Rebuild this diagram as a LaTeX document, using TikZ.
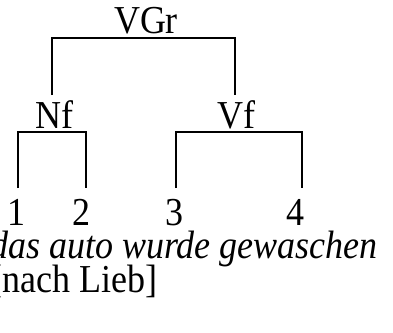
\documentclass[tikz,border=0pt]{standalone}
\usepackage{fontspec}
\setmainfont{Liberation Serif}
\newcommand{\vstretch}[1]{\scalebox{1}[1.1]{#1}}
\begin{document}
\begin{tikzpicture}[x=1pt,y=-1pt,
  lbl/.style={inner sep=0pt,anchor=base,font=\fontsize{36}{38}\selectfont},
  br/.style={line width=2pt}]
\useasboundingbox (0,0) rectangle (393,332);
\clip (0,0) rectangle (393,332);
\node[lbl] (vgr) at (146,33) {\vstretch{VGr}};
\node[lbl] (nf) at (54.5,128) {\vstretch{Nf}};
\node[lbl] (vf) at (236,128) {\vstretch{Vf}};
\node[lbl] (n1) at (16,225) {\vstretch{1}};
\node[lbl] (n2) at (81,225) {\vstretch{2}};
\node[lbl] (n3) at (174,225) {\vstretch{3}};
\node[lbl] (n4) at (295,225) {\vstretch{4}};
\node[lbl,anchor=base east] (sent) at (378,258) {\vstretch{\itshape das auto wurde gewaschen}};
\node[lbl,anchor=base east] (src) at (158,292) {\vstretch{[nach Lieb]}};
% coordinates for bracket ends
\coordinate (a1) at (52,95);
\coordinate (a2) at (235,95);
\coordinate (ta) at (0,38);
\coordinate (b1) at (18,188);
\coordinate (b2) at (86,188);
\coordinate (tb) at (0,132);
\coordinate (c1) at (176,188);
\coordinate (c2) at (302,188);
\draw[br] (a1) |- (ta -| vgr) -| (a2);
\draw[br] (b1) |- (tb -| nf) -| (b2);
\draw[br] (c1) |- (tb -| vf) -| (c2);
\end{tikzpicture}
\end{document}
